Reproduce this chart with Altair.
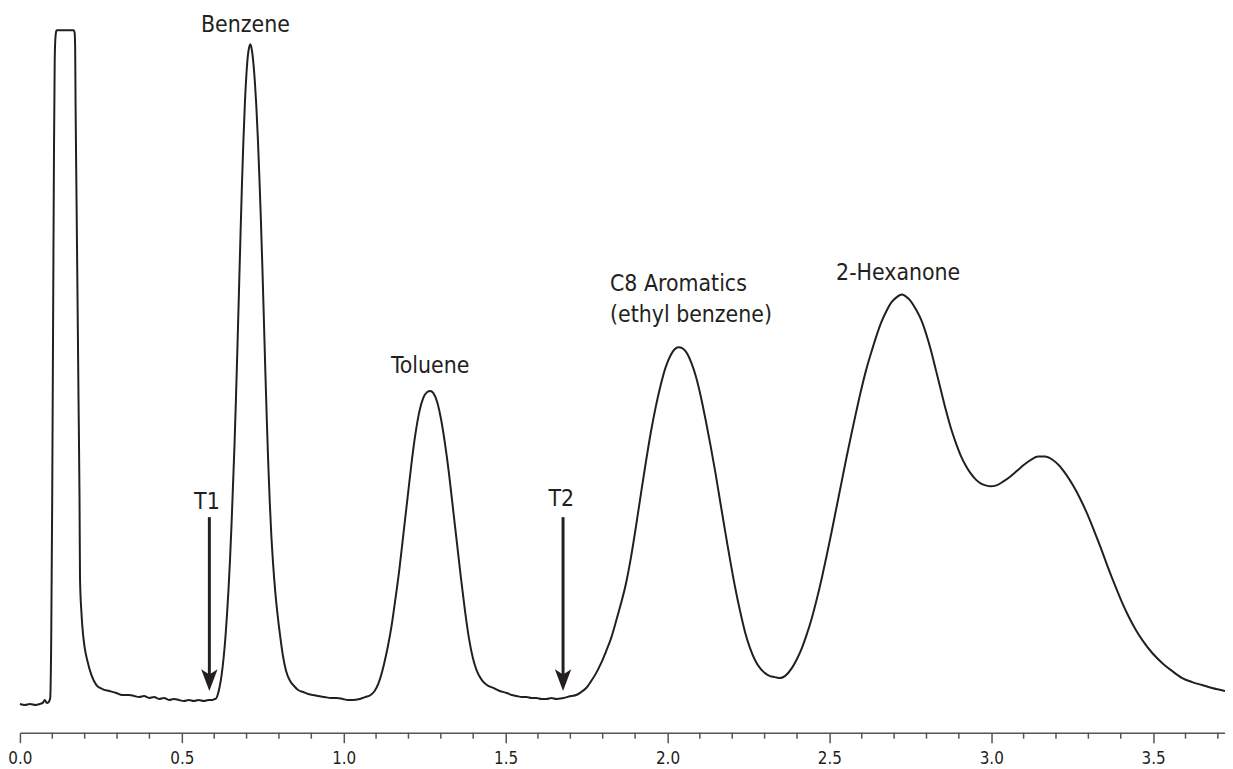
import altair as alt
import pandas as pd

# Retention time (min) and detector signal (arbitrary units, baseline ~ 33)
time = [
    0.000, 0.0153, 0.0307, 0.0491, 0.0614, 0.0706, 0.0767, 0.0828, 0.0890, 0.0936,
    0.0967, 0.0997, 0.1028, 0.1052, 0.1074, 0.1089, 0.1120, 0.1135, 0.1657, 0.1688,
    0.1706, 0.1718, 0.1749, 0.1780, 0.1810, 0.1841, 0.1856, 0.1902, 0.1933, 0.1994,
    0.2087, 0.2209, 0.2363, 0.2547, 0.2762, 0.2976, 0.3160, 0.3375, 0.3528, 0.3682,
    0.3835, 0.3989, 0.4143, 0.4296, 0.4450, 0.4603, 0.4757, 0.4910, 0.5064, 0.5217,
    0.5370, 0.5524, 0.5677, 0.5830, 0.5952, 0.6014,
    # Benzene
    0.6045, 0.6106, 0.6167, 0.6229, 0.6290, 0.6352, 0.6398, 0.6444, 0.6490, 0.6536,
    0.6582, 0.6628, 0.6674, 0.6720, 0.6766, 0.6812, 0.6858, 0.6904, 0.6950, 0.6996,
    0.7042, 0.7088, 0.7119, 0.7165, 0.7211, 0.7257, 0.7303, 0.7349, 0.7395, 0.7441,
    0.7487, 0.7533, 0.7579, 0.7625, 0.7671, 0.7717, 0.7763, 0.7824, 0.7886, 0.7947,
    0.8039, 0.8131, 0.8223, 0.8346, 0.8469, 0.8592, 0.8745, 0.8898, 0.9052, 0.9205,
    0.9404, 0.9604, 0.9788, 0.9972, 1.0125, 1.0279, 1.0494, 1.0678, 1.0831, 1.0954,
    # Toluene
    1.1077, 1.1230, 1.1353, 1.1476, 1.1599, 1.1721, 1.1844, 1.1967, 1.2090, 1.2212,
    1.2335, 1.2458, 1.2580, 1.2672, 1.2765, 1.2887, 1.3010, 1.3133, 1.3255, 1.3378,
    1.3501, 1.3624, 1.3746, 1.3869, 1.3992, 1.4115, 1.4268, 1.4421, 1.4636, 1.4820,
    1.5035, 1.5189, 1.5342, 1.5496, 1.5649, 1.5802, 1.5956, 1.6110, 1.6263, 1.6416,
    1.6569, 1.6784, 1.7030, 1.7183, 1.7336, 1.7490,
    # C8 aromatics
    1.7643, 1.7797, 1.7950, 1.8104, 1.8257, 1.8410, 1.8564, 1.8717, 1.8870, 1.9024,
    1.9178, 1.9331, 1.9484, 1.9638, 1.9791, 1.9945, 2.0098, 2.0221, 2.0343, 2.0466,
    2.0620, 2.0742, 2.0865, 2.1019, 2.1172, 2.1325, 2.1479, 2.1632, 2.1786, 2.1939,
    2.2092, 2.2246, 2.2399, 2.2553, 2.2706, 2.2860, 2.3013, 2.3166, 2.3320, 2.3473,
    2.3627,
    # 2-Hexanone and shoulder
    2.3841, 2.3995, 2.4148, 2.4302, 2.4455, 2.4609, 2.4762, 2.4915, 2.5069, 2.5222,
    2.5376, 2.5529, 2.5683, 2.5836, 2.5989, 2.6143, 2.6296, 2.6450, 2.6603, 2.6756,
    2.6910, 2.7063, 2.7247, 2.7370, 2.7524, 2.7677, 2.7831, 2.7984, 2.8137, 2.8291,
    2.8444, 2.8597, 2.8751, 2.8904, 2.9058, 2.9211, 2.9365, 2.9518, 2.9671, 2.9825,
    2.9978, 3.0162, 3.0377, 3.0592, 3.0807, 3.1022, 3.1237, 3.1451, 3.1666, 3.1881,
    3.2096, 3.2310, 3.2525, 3.2740, 3.2955, 3.3169, 3.3384, 3.3599, 3.3814, 3.4029,
    3.4243, 3.4458, 3.4673, 3.4980, 3.5287, 3.5593, 3.5900, 3.6207, 3.6514, 3.6821,
    3.7220,
]
signal = [
    29, 28, 29, 28, 29, 30, 33, 30, 31, 35,
    95, 235, 435, 585, 675, 695, 706, 707, 707, 705,
    690, 635, 535, 435, 335, 235, 155, 120, 105, 87,
    72, 58, 48, 44, 42, 40, 38, 38, 37, 36,
    37, 35, 36, 34, 35, 33, 34, 33, 32, 33,
    32, 33, 32, 33, 33, 34,
    # Benzene
    34, 38, 46, 58, 75, 98, 120, 145, 175, 210,
    250, 290, 338, 390, 445, 500, 552, 597, 635, 663,
    682, 691, 693, 687, 674, 655, 630, 598, 560, 518,
    470, 418, 365, 315, 270, 232, 200, 168, 142, 122,
    97, 76, 62, 52, 47, 43, 41, 39, 38, 37,
    36, 35, 35, 34, 33, 33, 34, 36, 38, 42,
    # Toluene
    50, 67, 85, 107, 135, 165, 200, 235, 270, 300,
    323, 337, 343, 344, 342, 333, 315, 290, 260, 225,
    190, 155, 123, 95, 75, 62, 53, 48, 45, 42,
    40, 38, 37, 36, 36, 35, 35, 34, 34, 35,
    34, 35, 37, 38, 41, 45,
    # C8 aromatics
    52, 60, 70, 82, 95, 112, 130, 150, 176, 207,
    240, 272, 302, 328, 350, 368, 380, 386, 388, 387,
    381, 372, 360, 340, 316, 290, 262, 232, 202, 173,
    146, 122, 101, 85, 73, 65, 60, 57, 56, 55,
    57,
    # 2-Hexanone and shoulder
    65, 74, 85, 99, 115, 134, 155, 178, 202, 227,
    252, 277, 301, 324, 346, 366, 383, 399, 413, 424,
    433, 438, 441, 439, 434, 426, 416, 402, 385, 365,
    345, 325, 307, 292, 279, 269, 261, 255, 251, 249,
    248, 249, 253, 258, 264, 270, 275, 278, 278, 275,
    269, 260, 249, 236, 221, 204, 186, 167, 149, 132,
    117, 104, 93, 80, 70, 62, 55, 51, 48, 45,
    42,
]

# Peak labels (centered)
label_text = ["Benzene", "Toluene", "2-Hexanone", "T1", "T2"]
label_time = [0.6965, 1.2672, 2.7125, 0.5775, 1.6723]
label_signal = [712, 369, 463, 232, 235]

# Left-aligned two-line label
c8_text = ["C8 Aromatics", "(ethyl benzene)"]
c8_time = [1.8226, 1.8226]
c8_signal = [452, 420]

# Time markers (arrows)
marker_time = [0.5851, 1.6775]
marker_top = [217, 217]
marker_tip = [42, 42]

major_ticks = [0.0, 0.5, 1.0, 1.5, 2.0, 2.5, 3.0, 3.5]
minor_ticks = [0.1, 0.2, 0.3, 0.4, 0.6, 0.7, 0.8, 0.9, 1.1, 1.2, 1.3, 1.4,
               1.6, 1.7, 1.8, 1.9, 2.1, 2.2, 2.3, 2.4, 2.6, 2.7, 2.8, 2.9,
               3.1, 3.2, 3.3, 3.4, 3.6, 3.7]

FONT = "Liberation Sans Narrow, DejaVu Sans Condensed, sans-serif"
INK = "#231f20"
AXIS_C = "#555555"

trace = pd.DataFrame({"time": time, "signal": signal})
labels = pd.DataFrame({"time": label_time, "signal": label_signal, "text": label_text})
c8 = pd.DataFrame({"time": c8_time, "signal": c8_signal, "text": c8_text})
markers = pd.DataFrame({"time": marker_time, "top": marker_top, "tip": marker_tip})
minor = pd.DataFrame({"time": minor_ticks})

xscale = alt.Scale(domain=[0, 3.722], nice=False, zero=False)
yscale = alt.Scale(domain=[0, 727], nice=False, zero=False)

xaxis = alt.Axis(
    values=major_ticks, format=".1f", tickSize=10, tickWidth=1.5, tickColor=AXIS_C,
    domainColor=AXIS_C, domainWidth=1.5, labelFont=FONT, labelFontSize=17,
    labelColor=INK, labelPadding=8, grid=False, title=None, labelFlush=False,
)

line = alt.Chart(trace).mark_line(color=INK, strokeWidth=2, interpolate="monotone").encode(
    x=alt.X("time:Q", scale=xscale, axis=xaxis),
    y=alt.Y("signal:Q", scale=yscale, axis=None),
)

minor_rules = alt.Chart(minor).mark_rule(color=AXIS_C, strokeWidth=1.5).encode(
    x=alt.X("time:Q", scale=xscale),
    y=alt.value(727),
    y2=alt.value(733),
)

shafts = alt.Chart(markers).transform_calculate(
    shaft_end="datum.tip + 14"
).mark_rule(color=INK, strokeWidth=3).encode(
    x=alt.X("time:Q", scale=xscale),
    y=alt.Y("top:Q", scale=yscale),
    y2="shaft_end:Q",
)

heads = alt.Chart(markers).mark_point(
    shape="M0,1L-0.75,-1L0,-0.5L0.75,-1Z", size=484, filled=True, opacity=1,
    color=INK, yOffset=-11,
).encode(
    x=alt.X("time:Q", scale=xscale),
    y=alt.Y("tip:Q", scale=yscale),
)

text_c = alt.Chart(labels).mark_text(
    font=FONT, fontSize=23, color=INK, align="center", baseline="middle"
).encode(
    x=alt.X("time:Q", scale=xscale),
    y=alt.Y("signal:Q", scale=yscale),
    text="text:N",
)

text_l = alt.Chart(c8).mark_text(
    font=FONT, fontSize=23, color=INK, align="left", baseline="middle"
).encode(
    x=alt.X("time:Q", scale=xscale),
    y=alt.Y("signal:Q", scale=yscale),
    text="text:N",
)

chart = alt.layer(minor_rules, line, shafts, heads, text_c, text_l).properties(
    width=1213, height=727,
    autosize=alt.AutoSizeParams(type="none"),
    padding={"left": 12, "top": 0, "right": 0, "bottom": 34},
    background="white",
).configure_view(stroke=None)

chart.save("out.html", embed_options={"renderer": "svg", "actions": False})
